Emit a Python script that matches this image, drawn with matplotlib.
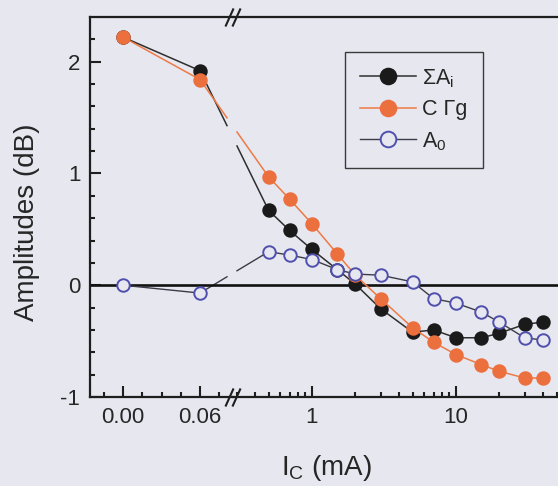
import matplotlib
matplotlib.use('Agg')
import matplotlib.pyplot as plt
from matplotlib.lines import Line2D
from matplotlib.transforms import IdentityTransform
from matplotlib.ticker import FixedLocator, LogLocator, NullFormatter

plt.rcParams['font.family'] = ['Liberation Sans', 'DejaVu Sans']
plt.rcParams['mathtext.fontset'] = 'custom'
plt.rcParams['mathtext.rm'] = 'Liberation Sans'

# collector current, linear part (mA) and logarithmic part (mA)
ic_lin = [0.00, 0.06]
ic_log = [0.5, 0.7, 1, 1.5, 2, 3, 5, 7, 10, 15, 20, 30, 40]

sum_ai_lin = [2.22, 1.92]
sum_ai_log = [0.67, 0.49, 0.32, 0.14, 0.01, -0.21, -0.42, -0.40, -0.47, -0.47, -0.43, -0.35, -0.33]

c_gamma_lin = [2.22, 1.84]
c_gamma_log = [0.97, 0.77, 0.55, 0.28, 0.09, -0.12, -0.38, -0.51, -0.62, -0.71, -0.77, -0.83, -0.83]

a0_lin = [0.00, -0.07]
a0_log = [0.30, 0.27, 0.23, 0.14, 0.10, 0.09, 0.03, -0.12, -0.16, -0.24, -0.33, -0.47, -0.49]

lin_ticks = [0.00, 0.06]
lin_labels = ['0.00', '0.06']
lin_minor = [-0.015, 0.015, 0.03, 0.045, 0.075]
log_ticks = [1, 10]
log_labels = ['1', '10']
y_ticks = [-1, 0, 1, 2]
y_labels = ['-1', '0', '1', '2']

bg = '#e7e7f0'
ink = '#262626'
W, H = 558, 486

fig = plt.figure(figsize=(W / 100, H / 100), dpi=100, facecolor=bg)
ax1 = fig.add_axes([90 / W, 1 - 397 / H, 143 / W, 380 / H], facecolor='none')
ax2 = fig.add_axes([233 / W, 1 - 397 / H, 337 / W, 380 / H], facecolor='none', sharey=ax1)

styles = [
    dict(label='ΣA$_{\\mathregular{i}}$', color='#2e2e2e', mfc='#1a1a1a', mec='#1a1a1a', lw=1.1, z=3),
    dict(label='C Γg', color='#ee7a45', mfc='#ec6f3e', mec='#ec6f3e', lw=1.1, z=4),
    dict(label='A$_{\\mathregular{0}}$', color='#3c3c48', mfc=bg, mec='#4f4fae', lw=1.0, z=5),
]
series = [(sum_ai_lin, sum_ai_log), (c_gamma_lin, c_gamma_log), (a0_lin, a0_log)]

handles = []
for (ylin, ylog), st in zip(series, styles):
    kw = dict(color=st['color'], lw=st['lw'], marker='o', ms=9, mfc=st['mfc'], mec=st['mec'],
              mew=1.4, zorder=st['z'])
    ax1.plot(ic_lin, ylin, **kw)
    h, = ax2.plot(ic_log, ylog, label=st['label'], **kw)
    handles.append(h)

for ax in (ax1, ax2):
    ax.axhline(0, color='#111111', lw=1.9, zorder=2)
    ax.spines['right'].set_visible(False)
    for s in ('left', 'top', 'bottom'):
        ax.spines[s].set_linewidth(1.6)
        ax.spines[s].set_color('#1e1e1e')
    ax.tick_params(which='both', direction='in', top=False, right=False, width=1.5,
                   colors='#1e1e1e', labelcolor=ink, labelsize=16)
    ax.tick_params(which='major', length=8, pad=7)
    ax.tick_params(which='minor', length=3.5)

ax1.set_xlim(-0.0257, 0.0857)
ax1.xaxis.set_major_locator(FixedLocator(lin_ticks))
ax1.set_xticklabels(lin_labels)
ax1.xaxis.set_minor_locator(FixedLocator(lin_minor))

ax1.set_ylim(-1, 2.40)
ax1.yaxis.set_major_locator(FixedLocator(y_ticks))
ax1.set_yticklabels(y_labels)
ax1.yaxis.set_minor_locator(FixedLocator([v / 10 for v in range(-8, 24, 2) if v % 10]))

ax2.set_xscale('log')
ax2.set_xlim(0.283, 62)
ax2.xaxis.set_major_locator(FixedLocator(log_ticks))
ax2.set_xticklabels(log_labels)
ax2.xaxis.set_minor_locator(LogLocator(base=10, subs=range(2, 10), numticks=20))
ax2.xaxis.set_minor_formatter(NullFormatter())
ax2.spines['left'].set_visible(False)
ax2.tick_params(axis='y', which='both', left=False, labelleft=False)

# links across the axis break: two pieces with a gap where the axes meet
x_break = ax2.transAxes.transform((0, 0))[0] - 1
half_gap = 5
for (ylin, ylog), st in zip(series, styles):
    (xa, ya) = ax1.transData.transform((ic_lin[-1], ylin[-1]))
    (xb, yb) = ax2.transData.transform((ic_log[0], ylog[0]))
    slope = (yb - ya) / (xb - xa)
    for x0, x1 in ((xa, x_break - half_gap), (x_break + half_gap, xb)):
        fig.add_artist(Line2D([x0, x1], [ya + slope * (x0 - xa), ya + slope * (x1 - xa)],
                              transform=IdentityTransform(), color=st['color'], lw=st['lw'],
                              zorder=-1))

# break marks on top and bottom spines
slash = [(-0.45, -1), (0.45, 1)]
for yy in (0, 1):
    ax1.plot([0.972, 1.021], [yy, yy], transform=ax1.transAxes, ls='none', marker=slash,
             ms=13, mew=1.5, color='#1e1e1e', clip_on=False, zorder=6)

leg = ax2.legend(handles=handles, loc='upper left', bbox_to_anchor=(0.332, 0.908),
                 borderaxespad=0, fontsize=15.5, handlelength=2.6, handletextpad=0.3,
                 labelspacing=0.45, borderpad=0.7, markerscale=1.25, fancybox=False,
                 framealpha=1, facecolor=bg, edgecolor='#3a3a3a')
leg.get_frame().set_linewidth(1.0)
for t in leg.get_texts():
    t.set_color(ink)

fig.text(27 / W, 1 - 222 / H, 'Amplitudes (dB)', rotation=90, ha='center', va='center',
         fontsize=20, color=ink)
fig.text(327 / W, 1 - 475 / H, 'I$_{\\mathregular{C}}$ (mA)', ha='center', va='baseline',
         fontsize=20, color=ink)

fig.savefig('out.png', dpi=100, facecolor=bg)
